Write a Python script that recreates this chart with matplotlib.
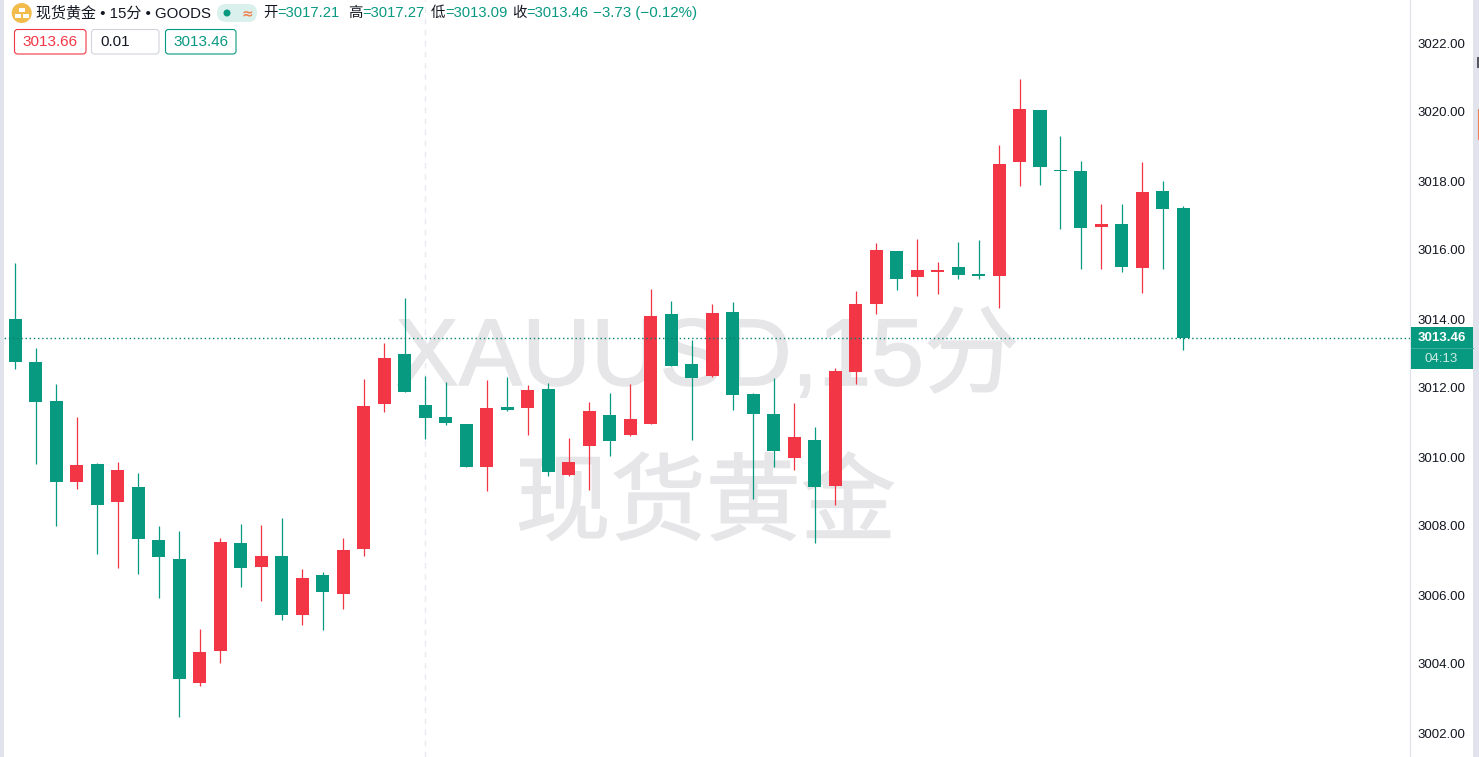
import matplotlib
matplotlib.use("Agg")
import matplotlib.pyplot as plt
import matplotlib.patheffects as pe
from matplotlib.patches import FancyBboxPatch, Rectangle, Circle

# ---- data (price readings) ----
opens = [3014.00,3012.75,3011.62,3009.28,3009.80,3008.70,3009.13,3007.59,3007.04,3003.45,
         3004.38,3007.51,3006.81,3007.13,3005.42,3006.58,3006.03,3007.33,3011.54,3012.99,
         3011.51,3011.16,3010.96,3009.71,3011.45,3011.42,3011.97,3009.48,3010.32,3011.22,
         3010.64,3010.96,3014.14,3012.70,3012.35,3014.20,3011.83,3011.25,3009.97,3010.49,
         3009.16,3012.46,3014.43,3015.97,3015.22,3015.36,3015.51,3015.28,3015.25,3018.55,
         3020.06,3018.32,3018.29,3016.67,3016.75,3015.48,3017.71,3017.21]
highs = [3015.61,3013.16,3012.12,3011.16,3009.83,3009.86,3009.54,3008.00,3007.86,3005.01,
         3007.65,3008.06,3008.03,3008.23,3006.75,3006.67,3007.65,3012.26,3013.30,3014.61,
         3012.35,3012.17,3010.96,3012.23,3012.32,3012.09,3012.14,3010.55,3011.59,3011.86,
         3012.12,3014.87,3014.52,3013.39,3014.43,3014.49,3011.86,3012.29,3011.57,3010.87,
         3012.58,3014.81,3016.20,3015.97,3016.32,3015.65,3016.23,3016.29,3019.04,3020.96,
         3020.06,3019.30,3018.58,3017.33,3017.33,3018.55,3018.00,3017.27]
lows  = [3012.55,3009.80,3008.00,3009.07,3007.19,3006.78,3006.61,3005.91,3002.46,3003.36,
         3004.03,3006.23,3005.83,3005.28,3005.13,3004.99,3005.59,3007.13,3011.30,3011.88,
         3010.52,3010.93,3009.71,3009.01,3011.33,3010.64,3009.45,3009.45,3009.04,3010.03,
         3010.61,3010.96,3012.64,3010.49,3012.32,3011.36,3008.78,3009.71,3009.62,3007.51,
         3008.61,3012.12,3014.14,3014.84,3014.67,3014.72,3015.16,3015.16,3014.32,3017.86,
         3017.88,3016.61,3015.45,3015.45,3015.36,3014.75,3015.45,3013.09]
closes= [3012.75,3011.59,3009.28,3009.77,3008.61,3009.62,3007.62,3007.10,3003.57,3004.35,
         3007.54,3006.78,3007.13,3005.42,3006.49,3006.09,3007.30,3011.48,3012.87,3011.88,
         3011.13,3010.99,3009.71,3011.42,3011.36,3011.94,3009.57,3009.86,3011.33,3010.46,
         3011.10,3014.09,3012.64,3012.29,3014.17,3011.80,3011.25,3010.17,3010.58,3009.13,
         3012.49,3014.43,3016.00,3015.16,3015.42,3015.42,3015.28,3015.25,3018.49,3020.09,
         3018.41,3018.29,3016.64,3016.75,3015.51,3017.68,3017.19,3013.46]
tick_values = [3002,3004,3006,3008,3010,3012,3014,3016,3018,3020,3022]
last_price = 3013.46
cursor_index = 20

UP = "#F23645"; DOWN = "#089981"; GRID = "#E0E3EB"; WM = "#E6E6E8"; TXT = "#131722"
LATIN_CJK = ["Liberation Sans", "Noto Sans CJK SC", "DejaVu Sans"]
plt.rcParams["font.family"] = LATIN_CJK

W, H = 1479, 757
PLOT_R = 1410
fig = plt.figure(figsize=(W/100, H/100), dpi=100, facecolor="white")
ax = fig.add_axes([0, 0, PLOT_R/W, 1])

ax.set_xlim(-15.5/20.49, (PLOT_R-15.5)/20.49)
ax.set_ylim(3002-(H-733)/34.5, 3002+733/34.5)
ax.yaxis.tick_right()
ax.set_yticks(tick_values)
ax.set_yticklabels([f"{v:.2f}" for v in tick_values], fontsize=9.5, color=TXT)
ax.tick_params(axis="y", length=0, pad=5.2)
ax.set_xticks([])
for s in ("top", "left", "bottom"):
    ax.spines[s].set_visible(False)
ax.spines["right"].set_color(GRID)
ax.spines["right"].set_linewidth(0.9)

# watermark
stroke = [pe.withStroke(linewidth=1.0, foreground=WM)]
ax.text(0.5015, 0.5245, "XAUUSD,15分", transform=ax.transAxes, fontsize=68.5, color=WM,
        ha="center", va="center", family=LATIN_CJK, zorder=0, path_effects=stroke)
ax.text(0.5005, 0.332, "现货黄金", transform=ax.transAxes, fontsize=68.5, color=WM,
        ha="center", va="center", family=["Noto Sans CJK SC"], zorder=0, path_effects=stroke)

# crosshair + last-price line
ax.axvline(cursor_index, color="#E8EAF0", lw=1, ls=(0, (4, 4)), zorder=1)
ax.axhline(last_price, color="#067F6C", lw=1.0, ls=(0, (1, 2)), zorder=4)

# candles
for i, (o, h, l, c) in enumerate(zip(opens, highs, lows, closes)):
    col = UP if c >= o else DOWN
    ax.vlines(i, l, h, color=col, lw=0.9, zorder=2)
    ax.bar(i, max(abs(c-o), 0.04), bottom=min(o, c), width=0.635, color=col, lw=0, zorder=3)

# page furniture in pixel coordinates
ov = fig.add_axes([0, 0, 1, 1], facecolor="none")
ov.set_xlim(0, W); ov.set_ylim(H, 0); ov.axis("off"); ov.set_zorder(10)

ov.add_patch(Rectangle((0, 0), 4, H, color=GRID, lw=0))
ov.add_patch(Rectangle((1473, 0), 6, H, color=GRID, lw=0))
ov.add_patch(Rectangle((1477, 57), 2, 11, color="#55585F", lw=0))
ov.add_patch(Rectangle((1477.5, 109), 2, 30, facecolor="white", edgecolor="#F08058", lw=0.8))

# price label
ov.add_patch(Rectangle((1411, 327), 62, 42, color=DOWN, lw=0))
ov.plot([1411, 1473], [347.5, 347.5], color="#3AAE9A", lw=0.7)
ov.text(1441.5, 338, "3013.46", color="white", fontsize=9.5, fontweight="bold", ha="center", va="center")
ov.text(1441.5, 359, "04:13", color="#CDEBE5", fontsize=9.5, ha="center", va="center")

# header
ov.add_patch(Circle((21.7, 13), 10, color="#F2BC4D", lw=0))
for cx, cy in [(21.7, 10.3), (17.8, 16), (25.6, 16)]:
    ov.add_patch(Rectangle((cx-3, cy-2), 6, 4, color="white", lw=0))
ov.text(36, 13, "现货黄金 • 15分 • GOODS", fontsize=10.8, color=TXT, ha="left", va="center")
ov.add_patch(FancyBboxPatch((217, 4), 40, 18, boxstyle="round,pad=0,rounding_size=9",
                            facecolor="#DAF0EC", edgecolor="none", lw=0))
ov.add_patch(Circle((227, 13), 3.5, color=DOWN, lw=0))
ov.text(247, 13, "≈", color="#F0824F", fontsize=10, fontweight="bold", ha="center", va="center", family="DejaVu Sans")

for lab, lx, val in [("开", 263, "=3017.21"), ("高", 348, "=3017.27"),
                     ("低", 431, "=3013.09"), ("收", 512, "=3013.46")]:
    ov.text(lx, 13, lab, fontsize=10.4, color=TXT, ha="left", va="center")
    ov.text(lx+14, 13, val, fontsize=10.6, color=DOWN, ha="left", va="center")
ov.text(593, 13, "−3.73 (−0.12%)", fontsize=10.9, color=DOWN, ha="left", va="center")

for (x0, x1, ec, tc, s) in [(14.5, 86, UP, UP, "3013.66"),
                            (91.5, 159, "#D1D4DC", TXT, "0.01"),
                            (165.5, 236, DOWN, DOWN, "3013.46")]:
    ov.add_patch(FancyBboxPatch((x0, 29.5), x1-x0, 24.5, boxstyle="round,pad=0,rounding_size=3",
                                facecolor="white", edgecolor=ec, lw=0.8))
    ov.text(x0+8.5 if s == "0.01" else (x0+x1)/2, 42, s, color=tc, fontsize=11,
            ha="left" if s == "0.01" else "center", va="center")

fig.savefig("out.png", dpi=100, facecolor="white")
